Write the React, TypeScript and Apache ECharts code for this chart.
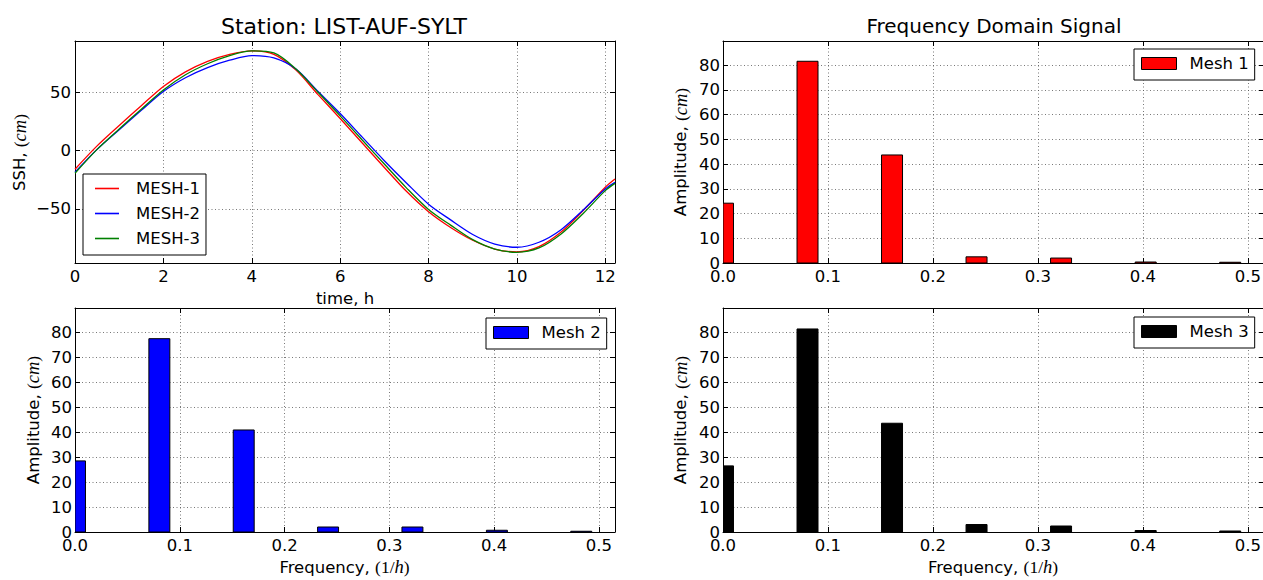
import React, { useEffect, useRef } from 'react';
import * as echarts from 'echarts';

// ---- data ----
const timeHours = [0, 0.5, 1, 1.5, 2, 2.5, 3, 3.5, 4, 4.5, 5, 5.5, 6, 6.5, 7, 7.5, 8, 8.5, 9, 9.5, 10, 10.5, 11, 11.5, 12, 12.22];
const mesh1Ssh = [-16, 4, 21.5, 38.5, 55, 67.5, 76.5, 82.5, 85.5, 82.5, 69, 48, 27.5, 6.5, -14.5, -35, -52.5, -66, -77, -84.5, -87, -82.5, -70, -51.5, -31.5, -24.5];
const mesh2Ssh = [-18.5, 1, 17.8, 34.5, 50.7, 62.5, 71.2, 77.5, 81.5, 79.5, 70, 50.7, 31.8, 11.5, -8.7, -27.8, -46, -59.5, -72, -80.2, -83, -78.7, -67.9, -51, -33, -27.3];
const mesh3Ssh = [-19.5, 1, 18.5, 35.5, 52, 65, 74.5, 81.5, 85.5, 83.8, 70, 50, 29.8, 9, -11.6, -32, -50.5, -64, -76.5, -84.5, -87.3, -83.6, -71.6, -54, -34.4, -28.2];

const freqs = [0, 0.0805, 0.161, 0.2415, 0.322, 0.4026, 0.4831];
const mesh1Amp = [24.2, 81.6, 43.7, 2.5, 2.0, 0.4, 0.3];
const mesh2Amp = [28.5, 77.5, 40.9, 2.0, 2.0, 0.7, 0.3];
const mesh3Amp = [26.5, 81.4, 43.6, 3.0, 2.4, 0.6, 0.4];

const lineNames = ['MESH-1', 'MESH-2', 'MESH-3'];
const barNames = ['Mesh 1', 'Mesh 2', 'Mesh 3'];

const FONT = 'DejaVu Sans';
const TICK_FS = 16.5;
const BAR_HALF_WIDTH = 0.01;

const minusFmt = (v: number) => (v < 0 ? '\u2212' + Math.abs(v) : String(v));

const gridLine = { show: true, lineStyle: { color: '#555', width: 0.8, type: [1, 2.5] } };
const axisLine = { show: true, onZero: false, lineStyle: { color: '#000', width: 1 } };
const tick = { show: true, inside: true, length: 5, lineStyle: { color: '#000', width: 1 } };

function xPair(g: number, min: number, max: number, interval: number, fmt: (v: number) => string) {
  return [
    {
      type: 'value', gridIndex: g, position: 'bottom', min, max, interval,
      axisLine, axisTick: tick, splitLine: gridLine,
      axisLabel: { show: true, margin: 5, color: '#000', fontFamily: FONT, fontSize: TICK_FS, formatter: fmt, showMaxLabel: false },
    },
    {
      type: 'value', gridIndex: g, position: 'top', min, max, interval,
      axisLine, axisTick: tick, splitLine: { show: false }, axisLabel: { show: false },
    },
  ];
}

function yPair(g: number, min: number, max: number, extra: any, hideMin: boolean, margin: number) {
  return [
    {
      type: 'value', gridIndex: g, position: 'left', min, max, ...extra,
      axisLine, axisTick: tick, splitLine: gridLine,
      axisLabel: { show: true, margin, color: '#000', fontFamily: FONT, fontSize: TICK_FS, formatter: minusFmt, showMaxLabel: false, showMinLabel: !hideMin },
    },
    {
      type: 'value', gridIndex: g, position: 'right', min, max, ...extra,
      axisLine, axisTick: tick, splitLine: { show: false }, axisLabel: { show: false },
    },
  ];
}

const rich = (fs: number) => ({
  a: { fontFamily: FONT, fontSize: fs, fontStyle: 'normal', fill: '#000' },
  p: { fontFamily: 'Liberation Serif', fontSize: fs + 1, fontStyle: 'normal', fill: '#000' },
  i: { fontFamily: 'Liberation Serif', fontSize: fs + 2, fontStyle: 'italic', fill: '#000' },
});

function label(x: number, y: number, text: string, rotate = false) {
  return {
    type: 'text', x, y, rotation: rotate ? Math.PI / 2 : 0,
    style: { text, fontFamily: FONT, fontSize: TICK_FS, fill: '#000', align: 'center', verticalAlign: 'middle', rich: rich(TICK_FS) },
  };
}

const legendText = (padLeft: number) => ({ fontFamily: FONT, fontSize: TICK_FS, color: '#000', lineHeight: 14, padding: [0, 0, 0, padLeft] });

function legendBox(names: string[], left: number, top: number, extra: any) {
  return {
    data: names, left, top, orient: 'vertical', selectedMode: false,
    borderColor: '#000', borderWidth: 1, borderRadius: 0, backgroundColor: '#fff',
    ...extra,
  };
}

function barSeries(name: string, g: number, color: string, amps: number[]) {
  return {
    type: 'custom', name, xAxisIndex: g * 2, yAxisIndex: g * 2, clip: true,
    itemStyle: { color, borderColor: '#000', borderWidth: 1 },
    data: freqs.map((f, i) => [f, amps[i]]),
    renderItem: (params: any, api: any) => {
      const x = api.value(0);
      const y = api.value(1);
      const p0 = api.coord([x - BAR_HALF_WIDTH, 0]);
      const p1 = api.coord([x + BAR_HALF_WIDTH, y]);
      const cs = params.coordSys;
      const rect = echarts.graphic.clipRectByRect(
        { x: p0[0], y: p1[1], width: p1[0] - p0[0], height: p0[1] - p1[1] },
        { x: cs.x, y: cs.y, width: cs.width, height: cs.height }
      );
      if (!rect) return null;
      return { type: 'rect', shape: rect, style: { fill: color, stroke: '#000', lineWidth: 1 } };
    },
  };
}

function lineSeries(name: string, color: string, vals: number[]) {
  return {
    type: 'line', name, xAxisIndex: 0, yAxisIndex: 0, symbol: 'none', showSymbol: false, smooth: 0.3, clip: true,
    lineStyle: { color, width: 1.3 }, itemStyle: { color },
    data: timeHours.map((t, i) => [t, vals[i]]),
  };
}

export default function App() {
  const ref = useRef<HTMLDivElement>(null);
  useEffect(() => {
    if (!ref.current) return;
    const chart = echarts.init(ref.current, null, { renderer: 'svg' });
    const barXMax = 0.5153;
    const barYMax = 89.8;
    const oneDec = (v: number) => v.toFixed(1);
    const barLegend = { padding: [6, 6, 8, 7], itemWidth: 35, itemHeight: 12, icon: 'rect',
      itemStyle: { borderColor: '#000', borderWidth: 1 }, textStyle: legendText(8) };
    const option: any = {
      animation: false,
      backgroundColor: '#fff',
      grid: [
        { left: 75, top: 41, width: 540, height: 222, outerBoundsMode: 'none' },
        { left: 723, top: 41, width: 541, height: 222, outerBoundsMode: 'none' },
        { left: 75, top: 308, width: 540, height: 224, outerBoundsMode: 'none' },
        { left: 723, top: 308, width: 541, height: 224, outerBoundsMode: 'none' },
      ],
      xAxis: [
        ...xPair(0, 0, 12.22, 2, (v: number) => String(v)),
        ...xPair(1, 0, barXMax, 0.1, oneDec),
        ...xPair(2, 0, barXMax, 0.1, oneDec),
        ...xPair(3, 0, barXMax, 0.1, oneDec),
      ],
      yAxis: [
        ...yPair(0, -96.5, 94, { splitNumber: 4 }, true, 4),
        ...yPair(1, 0, barYMax, { interval: 10 }, false, 3),
        ...yPair(2, 0, barYMax, { interval: 10 }, false, 3),
        ...yPair(3, 0, barYMax, { interval: 10 }, false, 3),
      ],
      legend: [
        legendBox(lineNames, 83, 174, { padding: [6, 6, 8, 12], itemGap: 8, itemWidth: 24, itemHeight: 1.6,
          icon: 'rect', textStyle: legendText(12) }),
        legendBox([barNames[0]], 1134, 49, barLegend),
        legendBox([barNames[1]], 486, 318, barLegend),
        legendBox([barNames[2]], 1134, 317, barLegend),
      ],
      graphic: [
        { type: 'text', x: 344, y: 26, style: { text: 'Station: LIST-AUF-SYLT', fontFamily: FONT, fontSize: 22, fill: '#000', align: 'center', verticalAlign: 'middle' } },
        { type: 'text', x: 994, y: 26, style: { text: 'Frequency Domain Signal', fontFamily: FONT, fontSize: 20, fill: '#000', align: 'center', verticalAlign: 'middle' } },
        label(19.5, 152.5, '{a|SSH, }{p|(}{i|cm}{p|)}', true),
        label(680.5, 152, '{a|Amplitude, }{p|(}{i|cm}{p|)}', true),
        label(33, 420, '{a|Amplitude, }{p|(}{i|cm}{p|)}', true),
        label(680.5, 420, '{a|Amplitude, }{p|(}{i|cm}{p|)}', true),
        label(345, 298, '{a|time, h}'),
        label(344.5, 567, '{a|Frequency, }{p|(1/}{i|h}{p|)}'),
        label(993, 567, '{a|Frequency, }{p|(1/}{i|h}{p|)}'),
      ],
      series: [
        lineSeries(lineNames[0], '#ff0000', mesh1Ssh),
        lineSeries(lineNames[1], '#0000ff', mesh2Ssh),
        lineSeries(lineNames[2], '#008000', mesh3Ssh),
        barSeries(barNames[0], 1, '#ff0000', mesh1Amp),
        barSeries(barNames[1], 2, '#0000ff', mesh2Amp),
        barSeries(barNames[2], 3, '#000000', mesh3Amp),
      ],
    };
    chart.setOption(option);
    return () => chart.dispose();
  }, []);
  return <div ref={ref} style={{ position: 'absolute', left: 0, top: 0, width: 1263, height: 580 }} />;
}
